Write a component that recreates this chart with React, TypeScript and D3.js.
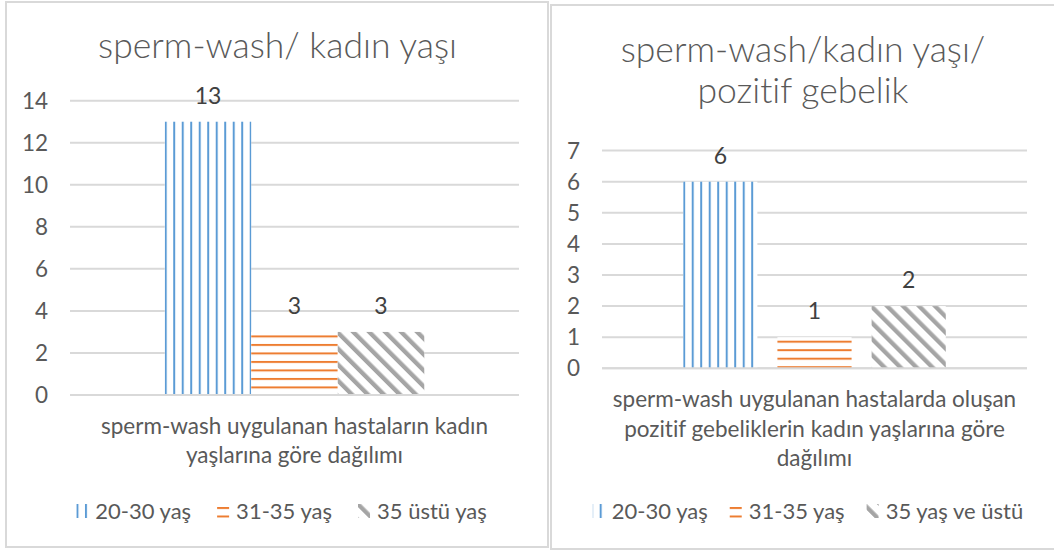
import React, { useEffect, useRef } from "react";
import * as d3 from "d3";

// ---------- data ----------
const leftTitleLines = ["sperm-wash/ kadın yaşı"];
const leftCategory = "sperm-wash uygulanan hastaların kadın yaşlarına göre dağılımı";
const leftCategoryLines = ["sperm-wash uygulanan hastaların kadın", "yaşlarına göre dağılımı"];
const leftSeries = ["20-30 yaş", "31-35 yaş", "35 üstü yaş"];
const leftValues = [13, 3, 3];
const leftTicks = [0, 2, 4, 6, 8, 10, 12, 14];

const rightTitleLines = ["sperm-wash/kadın yaşı/", "pozitif gebelik"];
const rightCategory = "sperm-wash uygulanan hastalarda oluşan pozitif gebeliklerin kadın yaşlarına göre dağılımı";
const rightCategoryLines = [
  "sperm-wash uygulanan hastalarda oluşan",
  "pozitif gebeliklerin kadın yaşlarına göre",
  "dağılımı",
];
const rightSeries = ["20-30 yaş", "31-35 yaş", "35 yaş ve üstü"];
const rightValues = [6, 1, 2];
const rightTicks = [0, 1, 2, 3, 4, 5, 6, 7];

const seriesPatterns = ["vertical", "horizontal", "diagonal"];
const seriesColors = ["#5B9BD5", "#ED7D31", "#A5A5A5"];

const FONT = "Lato, Carlito, 'Open Sans', sans-serif";
const TEXT = "#595959";
const LABEL = "#404040";
const GRID = "#D9D9D9";

type Cfg = {
  id: string;
  frame: { x: number; y: number; w: number; h: number };
  plot: { l: number; r: number; top: number; bottom: number };
  titleLines: string[];
  titleBaselines: number[];
  centerX: number;
  category: string;
  categoryLines: string[];
  catBaseline: number;
  catStep: number;
  series: string[];
  values: number[];
  ticks: number[];
  overlap: number;
  gapWidth: number;
  legendBaseline: number;
  legendGap: number;
  legendShift: number;
};

function addPattern(defs: any, id: string, kind: string, color: string, ox: number, oy: number) {
  if (kind === "vertical") {
    const p = defs.append("pattern").attr("id", id).attr("patternUnits", "userSpaceOnUse")
      .attr("x", ox).attr("y", 0).attr("width", 8.5).attr("height", 10);
    p.append("rect").attr("x", 0).attr("y", 0).attr("width", 2).attr("height", 10).attr("fill", color);
  } else if (kind === "horizontal") {
    const p = defs.append("pattern").attr("id", id).attr("patternUnits", "userSpaceOnUse")
      .attr("x", 0).attr("y", oy).attr("width", 10).attr("height", 8.5);
    p.append("rect").attr("x", 0).attr("y", 0).attr("width", 10).attr("height", 2).attr("fill", color);
  } else {
    const p = defs.append("pattern").attr("id", id).attr("patternUnits", "userSpaceOnUse")
      .attr("x", ox).attr("y", oy).attr("width", 11.3).attr("height", 11.3)
      .attr("patternTransform", `rotate(-45 ${ox} ${oy})`);
    p.append("rect").attr("x", 0).attr("y", 0).attr("width", 4.3).attr("height", 11.3).attr("fill", color);
  }
}

function drawChart(svg: any, defs: any, cfg: Cfg) {
  const g = svg.append("g").style("font-variant-ligatures", "none");
  const { frame, plot } = cfg;

  g.append("rect")
    .attr("x", frame.x).attr("y", frame.y).attr("width", frame.w).attr("height", frame.h)
    .attr("fill", "#fff").attr("stroke", GRID).attr("stroke-width", 2);

  // title
  const title = g.append("text").attr("text-anchor", "middle").attr("font-family", FONT)
    .attr("font-size", 35.5).attr("font-weight", 300).attr("fill", TEXT);
  cfg.titleLines.forEach((t, i) => {
    title.append("tspan").attr("x", cfg.centerX).attr("y", cfg.titleBaselines[i]).text(t);
  });

  const y = d3.scaleLinear().domain([0, d3.max(cfg.ticks) as number]).range([plot.bottom, plot.top]);
  const x0 = d3.scaleBand<string>().domain([cfg.category]).range([plot.l, plot.r]).padding(0);

  const n = cfg.series.length;
  const bandW = x0.bandwidth();
  const w = bandW / (n - (n - 1) * cfg.overlap + cfg.gapWidth);
  const stepW = w * (1 - cfg.overlap);
  const groupW = w + (n - 1) * stepW;
  const start = (x0(cfg.category) as number) + (bandW - groupW) / 2;
  const pInner = 1 - 1 / (1 - cfg.overlap);
  const x1 = d3.scaleBand<string>().domain(cfg.series).range([start, start + groupW])
    .paddingInner(pInner).paddingOuter(0);

  // gridlines
  g.append("g").selectAll("line").data(cfg.ticks).join("line")
    .attr("x1", plot.l).attr("x2", plot.r)
    .attr("y1", (d: number) => y(d)).attr("y2", (d: number) => y(d))
    .attr("stroke", GRID).attr("stroke-width", 2);

  // tick labels
  g.append("g").selectAll("text").data(cfg.ticks).join("text")
    .attr("x", plot.l - 22).attr("y", (d: number) => y(d)).attr("dy", "0.36em")
    .attr("text-anchor", "end").attr("font-family", FONT).attr("font-size", 22.5)
    .attr("fill", TEXT).text((d: number) => String(d));

  // bars
  cfg.series.forEach((s, i) => {
    const bx = x1(s) as number;
    const bw = x1.bandwidth();
    const top = y(cfg.values[i]);
    const pid = `${cfg.id}-bar-${i}`;
    addPattern(defs, pid, seriesPatterns[i], seriesColors[i], bx, top + 3.5);
    g.append("rect").attr("x", bx).attr("y", top).attr("width", bw).attr("height", y(0) - top).attr("fill", "#fff");
    g.append("rect").attr("x", bx).attr("y", top).attr("width", bw).attr("height", y(0) - top)
      .attr("fill", `url(#${pid})`);
    g.append("text").attr("x", bx + bw / 2).attr("y", top - 18).attr("text-anchor", "middle")
      .attr("font-family", FONT).attr("font-size", 23).attr("fill", LABEL).text(String(cfg.values[i]));
  });

  // axis line
  g.append("line").attr("x1", plot.l).attr("x2", plot.r).attr("y1", y(0)).attr("y2", y(0))
    .attr("stroke", GRID).attr("stroke-width", 2);

  // category label
  const cat = g.append("text").attr("text-anchor", "middle").attr("font-family", FONT)
    .attr("font-size", 22.5).attr("fill", TEXT);
  const cx = (x0(cfg.category) as number) + bandW / 2;
  cfg.categoryLines.forEach((t, i) => {
    cat.append("tspan").attr("x", cx).attr("y", cfg.catBaseline + i * cfg.catStep).text(t);
  });

  // legend
  const lg = g.append("g");
  const iconW = 12;
  const iconGap = 7;
  const items: { grp: any; width: number; i: number }[] = [];
  cfg.series.forEach((s, i) => {
    const grp = lg.append("g");
    const txt = grp.append("text").attr("x", iconW + iconGap).attr("y", 0)
      .attr("font-family", FONT).attr("font-size", 22).attr("fill", TEXT).text(s);
    const tw = (txt.node() as SVGTextElement).getComputedTextLength();
    items.push({ grp, width: iconW + iconGap + tw, i });
  });
  const total = d3.sum(items, (d) => d.width) + cfg.legendGap * (items.length - 1);
  let lx = cfg.centerX + cfg.legendShift - total / 2;
  items.forEach((it) => {
    it.grp.attr("transform", `translate(${lx},${cfg.legendBaseline})`);
    const ix = lx;
    const iy = cfg.legendBaseline - 15;
    const pid = `${cfg.id}-leg-${it.i}`;
    addPattern(defs, pid, seriesPatterns[it.i], seriesColors[it.i], ix + 0.5, iy + 2.5);
    it.grp.insert("rect", "text").attr("x", 0).attr("y", -15).attr("width", iconW).attr("height", 14)
      .attr("fill", `url(#${pid})`);
    lx += it.width + cfg.legendGap;
  });
}

const leftCfg: Cfg = {
  id: "left",
  frame: { x: 6, y: 2, w: 542, h: 545 },
  plot: { l: 70, r: 519, top: 100.7, bottom: 395 },
  titleLines: leftTitleLines,
  titleBaselines: [58],
  centerX: 277.5,
  category: leftCategory,
  categoryLines: leftCategoryLines,
  catBaseline: 434,
  catStep: 29,
  series: leftSeries,
  values: leftValues,
  ticks: leftTicks,
  overlap: 0,
  gapWidth: 2.19,
  legendBaseline: 519,
  legendGap: 26,
  legendShift: 4,
};

const rightCfg: Cfg = {
  id: "right",
  frame: { x: 551, y: 5, w: 504, h: 544 },
  plot: { l: 602, r: 1027, top: 150.6, bottom: 368.3 },
  titleLines: rightTitleLines,
  titleBaselines: [62, 103],
  centerX: 803,
  category: rightCategory,
  categoryLines: rightCategoryLines,
  catBaseline: 407,
  catStep: 29.5,
  series: rightSeries,
  values: rightValues,
  ticks: rightTicks,
  overlap: -0.27,
  gapWidth: 2.19,
  legendBaseline: 519,
  legendGap: 22,
  legendShift: 5,
};

export default function App() {
  const ref = useRef<SVGSVGElement | null>(null);
  useEffect(() => {
    const svg = d3.select(ref.current as SVGSVGElement);
    svg.selectAll("*").remove();
    svg.append("rect").attr("width", 1054).attr("height", 552).attr("fill", "#fff");
    const defs = svg.append("defs");
    drawChart(svg, defs, leftCfg);
    drawChart(svg, defs, rightCfg);
  }, []);
  return (
    <svg
      ref={ref}
      width={1054}
      height={552}
      style={{ position: "absolute", left: 0, top: 0, display: "block" }}
    />
  );
}
